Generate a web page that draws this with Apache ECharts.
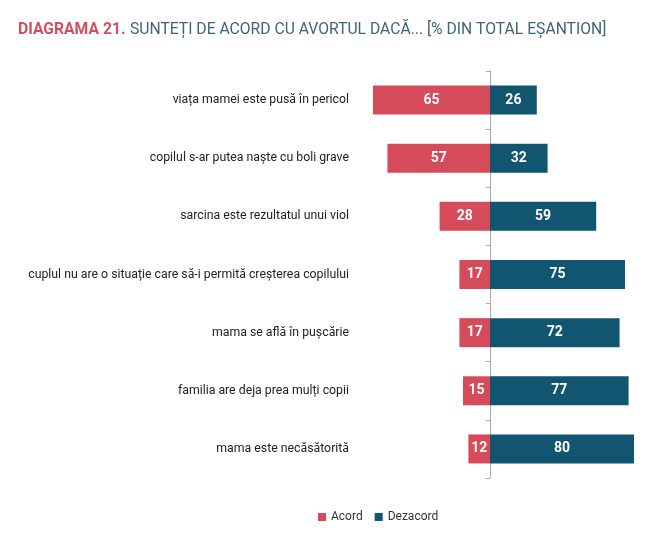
<!DOCTYPE html>
<html><head><meta charset="utf-8">
<script src="https://cdn.jsdelivr.net/npm/echarts@6/dist/echarts.min.js"></script>
<style>html,body{margin:0;padding:0;background:#fff}#c{width:665px;height:538px}</style>
</head><body><div id="c"></div>
<script>
const categories = [
  "viața mamei este pusă în pericol",
  "copilul s-ar putea naște cu boli grave",
  "sarcina este rezultatul unui viol",
  "cuplul nu are o situație care să-i permită creșterea copilului",
  "mama se află în pușcărie",
  "familia are deja prea mulți copii",
  "mama este necăsătorită"
];
const acord = [65, 57, 28, 17, 17, 15, 12];
const dezacord = [26, 32, 59, 75, 72, 77, 80];
const seriesNames = ["Acord", "Dezacord"];

const chart = echarts.init(document.getElementById('c'));
const font = 'Roboto';
chart.setOption({
  animation: false,
  textStyle: { fontFamily: font },
  title: {
    text: '{a|DIAGRAMA 21.} {b|SUNTEȚI DE ACORD CU AVORTUL DACĂ... [% DIN TOTAL EȘANTION]}',
    left: 13, top: 16,
    textStyle: {
      rich: {
        a: { fontFamily: font, fontSize: 15.7, fontWeight: 'bold', color: '#d24f5e' },
        b: { fontFamily: font, fontSize: 15.7, fontWeight: 'normal', color: '#3f6477' }
      }
    }
  },
  legend: {
    data: seriesNames,
    left: 313, top: 506,
    itemWidth: 8, itemHeight: 8, itemGap: 12,
    icon: 'rect',
    textStyle: { fontFamily: font, fontSize: 12, color: '#333' }
  },
  grid: { left: 355, right: 13, top: 71, bottom: 60 },
  xAxis: {
    type: 'value', min: -75, max: 90, show: false
  },
  yAxis: [
    {
      type: 'category', data: categories, inverse: true, position: 'left',
      axisLine: { show: false }, axisTick: { show: false },
      axisLabel: { fontFamily: font, fontSize: 12.3, color: '#222', margin: 6 }
    },
    {
      type: 'category', data: categories, inverse: true, position: 'left', offset: -135,
      axisLine: { show: true, onZero: false, lineStyle: { color: '#a9a9a9', width: 1 } },
      axisTick: { show: true, length: 4, inside: false, lineStyle: { color: '#a9a9a9' } },
      axisLabel: { show: false }
    }
  ],
  series: [
    {
      name: seriesNames[0], type: 'bar', stack: 's', barWidth: 29,
      data: acord.map(v => -v),
      itemStyle: { color: '#d64b5a' },
      label: { show: true, position: 'inside', color: '#fff', fontFamily: font, fontWeight: 'bold', fontSize: 14,
        formatter: p => Math.abs(p.value) }
    },
    {
      name: seriesNames[1], type: 'bar', stack: 's', barWidth: 29,
      data: dezacord,
      itemStyle: { color: '#115570' },
      label: { show: true, position: 'inside', color: '#fff', fontFamily: font, fontWeight: 'bold', fontSize: 14 }
    }
  ]
});
</script></body></html>
